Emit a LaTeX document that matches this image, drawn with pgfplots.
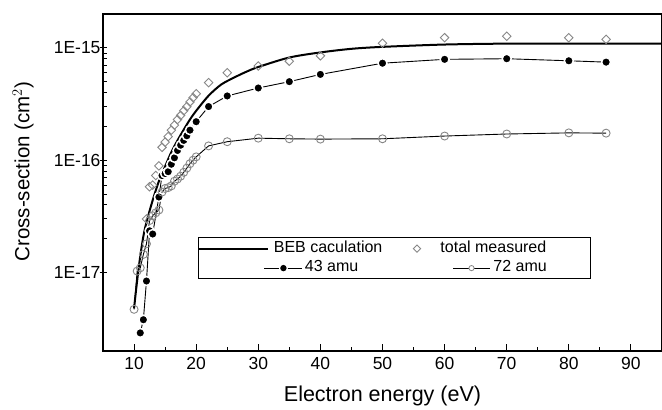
\documentclass[border=0pt]{standalone}
\usepackage{fontspec}
\setmainfont{Liberation Sans}
\usepackage{pgfplots}
\pgfplotsset{compat=1.18}
\definecolor{mgray}{RGB}{135,135,135}
\begin{document}
\begin{tikzpicture}
\begin{axis}[
  scale only axis, width=559bp, height=337bp,
  xmin=5, xmax=95, ymode=log, ymin=2e-18, ymax=2e-15,
  axis line style={line width=1.5bp},
  xtick={10,20,...,90}, xticklabels={10,20,30,40,50,60,70,80,90},
  minor x tick num=1,
  ytick={1e-17,1e-16,1e-15}, yticklabels={1E-17,1E-16,1E-15},
  xtick pos=bottom, ytick pos=left,
  tick align=inside,
  major tick length=7bp, minor tick length=4bp,
  tick style={black, line width=0.9bp},
  major y tick style={xshift=-3.5bp},
  ticklabel style={font=\fontsize{17.5bp}{20bp}\selectfont},
  xticklabel style={yshift=-3bp},
  yticklabel style={xshift=1bp},
  xlabel={Electron energy (eV)},
  ylabel={Cross-section (cm$^2$)},
  xlabel style={font=\fontsize{21.5bp}{24bp}\selectfont, at={(axis description cs:0.5,-0.133)}, anchor=center},
  ylabel style={font=\fontsize{20.5bp}{24bp}\selectfont, at={(axis description cs:-0.143,0.532)}, anchor=center},
  legend columns=2,
  legend cell align=left,
  legend style={at={(0.170,0.337)}, anchor=north west, draw=black, line width=0.8bp,
    inner xsep=0pt, inner ysep=1bp,
    font=\fontsize{16bp}{18bp}\selectfont,
    nodes={text height=11bp, text depth=3.5bp, inner ysep=2.5bp, inner xsep=0pt},
    /tikz/column 1/.style={column sep=2bp},
    /tikz/column 2/.style={column sep=30.5bp},
    /tikz/column 3/.style={column sep=3bp}},
]
\addplot[black, line width=2bp, smooth, no markers,
  legend image code/.code={\path (-30bp,0bp) -- (0bp,0bp); \draw[line width=2bp] (0bp,0bp) -- (39bp,0bp);}]
  coordinates {
  (10,4.8e-18) (10.5,8.5e-18) (11,1.4e-17) (11.5,2.1e-17) (12,2.8e-17) (13,4.4e-17)
  (14,6.5e-17) (15,8.8e-17) (16,1.18e-16) (17,1.5e-16) (18,1.87e-16) (19,2.3e-16)
  (20,2.75e-16) (22,3.75e-16) (24,4.7e-16) (26,5.4e-16) (28,6.1e-16) (30,6.75e-16)
  (35,8.2e-16) (40,9.1e-16) (45,9.8e-16) (50,1.02e-15) (60,1.07e-15) (70,1.09e-15)
  (80,1.09e-15) (95,1.09e-15)};
\addlegendentry{\hspace*{-31bp}BEB caculation}
\addplot[only marks, mark=square, mark size=3bp, mark options={draw=mgray, line width=0.9bp, rotate=45, fill=none},
  legend image code/.code={\draw[mgray, line width=0.9bp, rotate=45] (-2.6bp,-2.6bp) rectangle (2.6bp,2.6bp);}]
  coordinates {
  (12.0,3.0e-17) (12.5,5.8e-17) (13.0,6.0e-17) (13.5,7.3e-17) (14.0,8.9e-17) (14.5,1.3e-16)
  (15.0,1.45e-16) (15.5,1.62e-16) (16.0,1.85e-16) (16.5,2.05e-16) (17.0,2.3e-16) (17.5,2.5e-16)
  (18.0,2.75e-16) (18.5,3.0e-16) (19.0,3.3e-16) (19.5,3.6e-16) (20.0,3.9e-16) (22,4.9e-16)
  (25,6.0e-16) (30,6.9e-16) (35,7.6e-16) (40,8.5e-16) (50,1.1e-15) (60,1.23e-15)
  (70,1.27e-15) (80,1.23e-15) (86,1.19e-15)};
\addlegendentry{\hspace*{-53bp}total measured\hspace*{44bp}}
\addplot[black, line width=0.9bp, mark=*, mark size=4.5bp, mark options={fill=black, draw=white, line width=1.5bp},
  legend image code/.code={\draw[line width=0.9bp] (35bp,0bp) -- (73bp,0bp); \fill[white] (54bp,0bp) circle (4bp); \fill[black] (54bp,0bp) circle (2.7bp);}]
  coordinates {
  (11.0,2.9e-18) (11.5,3.8e-18) (12.0,8.4e-18) (12.5,2.35e-17) (13.0,2.2e-17) (14.0,4.7e-17)
  (14.5,7.3e-17) (15.0,7.6e-17) (15.5,7.9e-17) (16.0,9.2e-17) (16.5,1.05e-16) (17.0,1.22e-16)
  (17.5,1.36e-16) (18.0,1.5e-16) (18.5,1.65e-16) (19.0,1.85e-16) (20.0,2.2e-16) (22,3.0e-16)
  (25,3.73e-16) (30,4.39e-16) (35,5.0e-16) (40,5.8e-16) (50,7.3e-16) (60,7.9e-16)
  (70,8.0e-16) (80,7.67e-16) (86,7.46e-16)};
\addlegendentry{43 amu}
\addplot[black, line width=0.9bp, mark=o, mark size=4bp, mark options={fill=white, draw=mgray, line width=0.9bp},
  legend image code/.code={\draw[line width=0.9bp] (36bp,0bp) -- (73bp,0bp); \filldraw[fill=white, draw=mgray, line width=0.8bp] (54.5bp,0bp) circle (2.6bp);}]
  coordinates {
  (10.0,4.7e-18) (10.5,1.03e-17) (11.0,1.1e-17) (11.5,1.45e-17) (12.0,1.8e-17) (12.5,2.9e-17)
  (13.0,3.2e-17) (13.5,3.4e-17) (14.0,3.6e-17) (14.5,5.2e-17) (15.0,5.6e-17) (15.5,5.7e-17)
  (16.0,5.9e-17) (16.5,6.5e-17) (17.0,6.8e-17) (17.5,7.2e-17) (18.0,7.8e-17) (18.5,8.5e-17)
  (19.0,9.3e-17) (19.5,1.0e-16) (20.0,1.07e-16) (22,1.34e-16) (25,1.46e-16) (30,1.57e-16)
  (35,1.55e-16) (40,1.54e-16) (50,1.55e-16) (60,1.64e-16) (70,1.71e-16) (80,1.75e-16)
  (86,1.74e-16)};
\addlegendentry{72 amu}
\end{axis}
\pgfresetboundingbox
\path ([shift={(-103bp,-58bp)}]current axis.south west) rectangle ([shift={(0bp,14bp)}]current axis.north east);
\end{tikzpicture}
\end{document}
